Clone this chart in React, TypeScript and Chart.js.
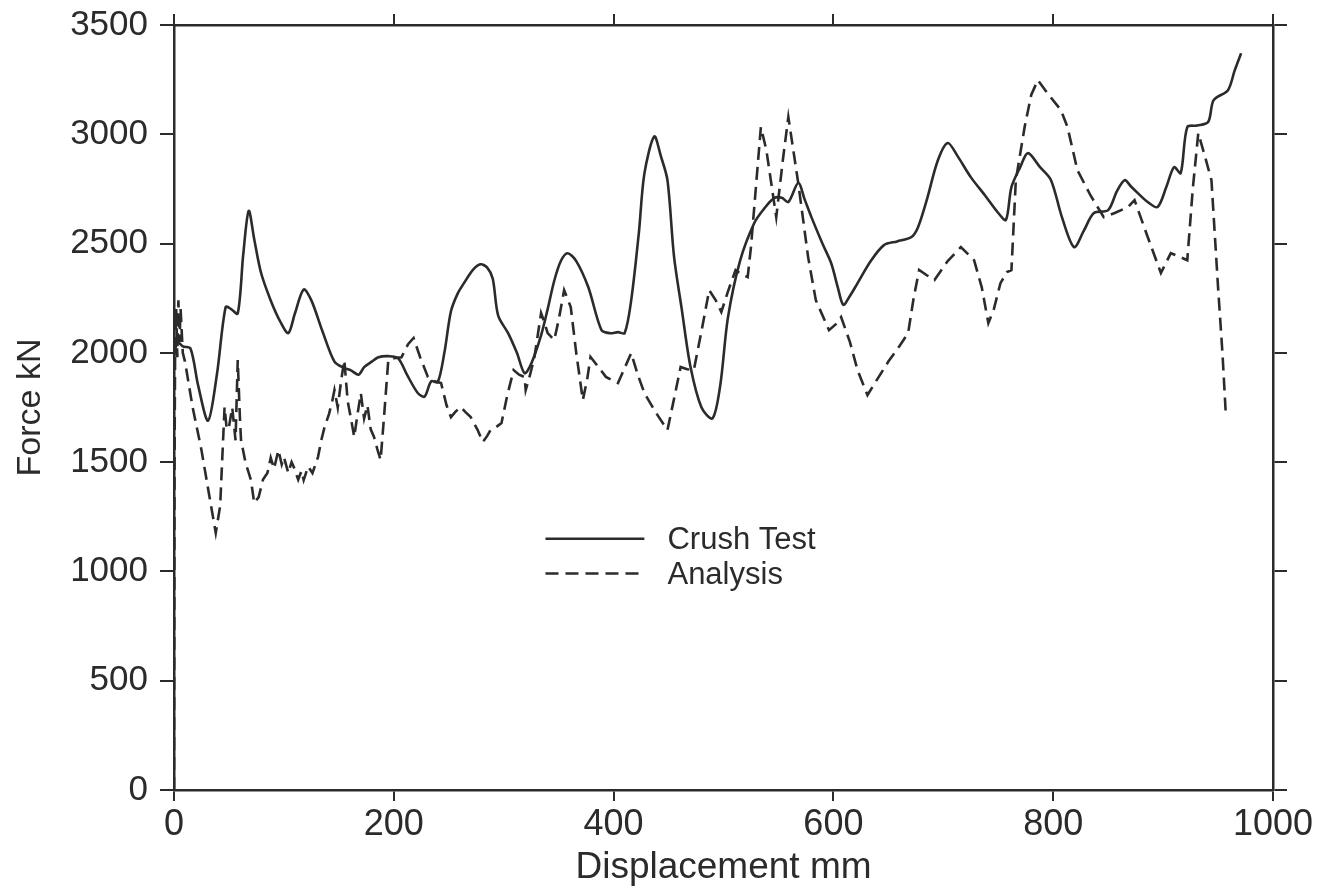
import React, { useEffect, useRef } from "react";
import { Chart, registerables } from "chart.js";

Chart.register(...registerables);

const crushX = [0, 3, 8, 15, 22, 31, 39, 47, 52, 58, 63, 68, 73, 79, 88, 97, 104, 110, 118, 125, 135, 146, 155, 161, 168, 173, 180, 186, 195, 204, 212, 222, 228, 234, 240, 246, 252, 258, 264, 272, 279, 285, 290, 295, 304, 312, 319, 325, 334, 340, 346, 352, 358, 366, 377, 389, 397, 404, 410, 416, 423, 428, 437, 443, 449, 455, 462, 470, 480, 490, 497, 504, 515, 528, 537, 546, 553, 559, 568, 574, 580, 590, 598, 604, 609, 615, 622, 634, 646, 658, 671, 677, 685, 695, 704, 713, 725, 738, 750, 757, 762, 770, 777, 788, 798, 808, 819, 828, 837, 850, 858, 865, 871, 877, 886, 895, 903, 910, 916, 922, 931, 941, 946, 959, 965, 971];
const crushY = [1980, 2050, 2030, 2020, 1850, 1690, 1900, 2210, 2200, 2180, 2450, 2650, 2520, 2370, 2240, 2140, 2090, 2180, 2290, 2240, 2100, 1960, 1930, 1920, 1900, 1935, 1960, 1980, 1985, 1975, 1900, 1815, 1800, 1870, 1866, 2000, 2190, 2270, 2320, 2380, 2405, 2390, 2340, 2170, 2090, 2000, 1907, 1950, 2080, 2200, 2330, 2420, 2456, 2420, 2300, 2104, 2090, 2095, 2090, 2240, 2550, 2820, 2990, 2900, 2790, 2440, 2200, 1935, 1750, 1700, 1850, 2160, 2420, 2594, 2660, 2708, 2710, 2690, 2777, 2700, 2621, 2500, 2410, 2300, 2220, 2260, 2319, 2420, 2493, 2510, 2530, 2575, 2700, 2880, 2960, 2900, 2804, 2720, 2640, 2608, 2758, 2850, 2914, 2850, 2790, 2620, 2484, 2560, 2640, 2653, 2740, 2790, 2760, 2731, 2690, 2667, 2760, 2850, 2822, 3033, 3040, 3056, 3156, 3202, 3290, 3371];

const analysisX = [0, 0.5, 1, 2, 3, 4, 5, 6, 8, 10, 17, 25, 32, 38, 42, 46, 48, 50, 53, 56, 58, 60, 61, 65, 70, 73, 77, 81, 85, 88, 91, 95, 98, 100, 104, 107, 109, 113, 116, 118, 122, 126, 131, 134, 137, 141, 144, 146, 149, 152, 155, 158, 161, 164, 167, 170, 173, 176, 179, 182, 185, 188, 191, 195, 200, 207, 213, 218, 224, 231, 237, 243, 248, 252, 256, 261, 265, 270, 276, 281, 285, 288, 293, 298, 303, 309, 314, 319, 320, 324, 328, 334, 337, 340, 346, 350, 355, 361, 366, 372, 376, 379, 387, 393, 398, 404, 410, 416, 422, 428, 438, 449, 455, 461, 467, 473, 480, 487, 493, 498, 504, 511, 516, 522, 525, 534, 539, 548, 554, 559, 568, 577, 584, 596, 602, 607, 615, 622, 631, 640, 650, 660, 668, 673, 678, 685, 692, 704, 716, 728, 735, 741, 746, 752, 758, 762, 766, 774, 780, 786, 796, 807, 813, 822, 834, 846, 856, 868, 874, 886, 898, 907, 915, 922, 927, 932, 938, 944, 950, 954, 957];
const analysisY = [0, 1500, 2000, 2200, 1980, 2240, 2050, 2200, 2000, 1960, 1750, 1555, 1350, 1176, 1300, 1752, 1650, 1660, 1750, 1600, 1967, 1700, 1600, 1500, 1418, 1313, 1340, 1420, 1450, 1520, 1470, 1555, 1490, 1523, 1450, 1500, 1478, 1420, 1460, 1418, 1480, 1450, 1523, 1600, 1660, 1720, 1780, 1830, 1750, 1870, 1967, 1780, 1700, 1615, 1720, 1815, 1700, 1760, 1650, 1615, 1560, 1510, 1700, 1967, 1975, 1980, 2040, 2068, 1980, 1890, 1870, 1862, 1760, 1706, 1730, 1752, 1730, 1706, 1650, 1592, 1620, 1647, 1660, 1679, 1800, 1921, 1900, 1889, 1830, 1900, 1981, 2182, 2140, 2090, 2059, 2150, 2287, 2210, 2000, 1784, 1880, 1981, 1930, 1890, 1876, 1862, 1930, 1999, 1900, 1816, 1730, 1647, 1790, 1935, 1925, 1921, 2100, 2287, 2240, 2187, 2280, 2379, 2360, 2347, 2484, 3033, 2928, 2621, 2882, 3079, 2777, 2438, 2241, 2104, 2130, 2164, 2050, 1920, 1807, 1880, 1960, 2030, 2090, 2250, 2379, 2355, 2333, 2420, 2484, 2424, 2300, 2136, 2200, 2319, 2370, 2379, 2790, 3033, 3180, 3248, 3180, 3111, 3033, 2836, 2720, 2621, 2640, 2667, 2699, 2530, 2365, 2456, 2440, 2424, 2750, 3005, 2900, 2790, 2300, 2000, 1724];

const xTicks = [0, 200, 400, 600, 800, 1000];
const yTicks = [0, 500, 1000, 1500, 2000, 2500, 3000, 3500];
const seriesNames = ["Crush Test", "Analysis"];
const xTitle = "Displacement mm";
const yTitle = "Force kN";

const INK = "#2b2b2b";
const FONT = "'Liberation Sans', Arial, Helvetica, sans-serif";

const legendPlugin = {
  id: "inlineLegend",
  afterDatasetsDraw(chart: any) {
    const { ctx, scales } = chart;
    const xs = scales.x;
    const ys = scales.y;
    const x0 = xs.getPixelForValue(338);
    const x1 = xs.getPixelForValue(428);
    const tx = xs.getPixelForValue(449);
    const rows = [
      { y: ys.getPixelForValue(1150), dash: [] as number[], label: seriesNames[0] },
      { y: ys.getPixelForValue(990), dash: [13, 7], label: seriesNames[1] },
    ];
    ctx.save();
    rows.forEach((r) => {
      ctx.strokeStyle = INK;
      ctx.lineWidth = 2.5;
      ctx.setLineDash(r.dash);
      ctx.beginPath();
      ctx.moveTo(x0, r.y);
      ctx.lineTo(x1, r.y);
      ctx.stroke();
      ctx.setLineDash([]);
      ctx.fillStyle = INK;
      ctx.font = `31px ${FONT}`;
      ctx.textAlign = "left";
      ctx.textBaseline = "middle";
      ctx.fillText(r.label, tx, r.y + 2);
    });
    ctx.restore();
  },
};

const plain = (v: any) => String(v);

export default function App() {
  const ref = useRef<HTMLCanvasElement | null>(null);

  useEffect(() => {
    if (!ref.current) return;
    const crush = crushX.map((x, i) => ({ x, y: crushY[i] }));
    const analysis = analysisX.map((x, i) => ({ x, y: analysisY[i] }));
    const grid = {
      drawOnChartArea: false,
      drawTicks: true,
      color: INK,
      lineWidth: 2,
    };
    const border = { display: true, color: INK, width: 2.5 };
    const chart = new Chart(ref.current, {
      type: "line",
      data: {
        datasets: [
          {
            label: seriesNames[0],
            data: crush,
            borderColor: INK,
            borderWidth: 2.6,
            pointRadius: 0,
            tension: 0.3,
            fill: false,
          },
          {
            label: seriesNames[1],
            data: analysis,
            borderColor: INK,
            borderWidth: 2.6,
            borderDash: [13, 7],
            pointRadius: 0,
            tension: 0,
            fill: false,
          },
        ],
      },
      options: {
        animation: false,
        responsive: false,
        maintainAspectRatio: false,
        layout: { padding: 0 },
        plugins: {
          legend: { display: false },
          tooltip: { enabled: false },
        },
        scales: {
          x: {
            type: "linear",
            position: "bottom",
            min: 0,
            max: 1000,
            afterBuildTicks: (s: any) => {
              s.ticks = xTicks.map((v) => ({ value: v }));
            },
            ticks: {
              color: INK,
              font: { family: FONT, size: 36 },
              padding: 2,
              maxRotation: 0,
              callback: plain,
            },
            grid: { ...grid, tickLength: 11 },
            border,
            title: {
              display: true,
              text: xTitle,
              color: INK,
              font: { family: FONT, size: 37 },
              padding: { top: 0, bottom: 4 },
            },
            afterFit: (s: any) => {
              s.height = 104;
              s.paddingLeft = 0;
              s.paddingRight = 0;
            },
          },
          x2: {
            type: "linear",
            position: "top",
            min: 0,
            max: 1000,
            afterBuildTicks: (s: any) => {
              s.ticks = xTicks.map((v) => ({ value: v }));
            },
            ticks: { display: false },
            grid: { ...grid, tickLength: 11 },
            border,
            afterFit: (s: any) => {
              s.height = 25;
              s.paddingLeft = 0;
              s.paddingRight = 0;
            },
          },
          y: {
            type: "linear",
            position: "left",
            min: 0,
            max: 3500,
            afterBuildTicks: (s: any) => {
              s.ticks = yTicks.map((v) => ({ value: v }));
            },
            ticks: {
              color: INK,
              font: { family: FONT, size: 35 },
              padding: 12,
              callback: plain,
            },
            grid: { ...grid, tickLength: 14 },
            border,
            title: {
              display: true,
              text: yTitle,
              color: INK,
              font: { family: FONT, size: 34 },
              padding: { top: 10, bottom: 0 },
            },
            afterFit: (s: any) => {
              s.width = 174;
              s.paddingTop = 0;
              s.paddingBottom = 0;
            },
          },
          y2: {
            type: "linear",
            position: "right",
            min: 0,
            max: 3500,
            afterBuildTicks: (s: any) => {
              s.ticks = yTicks.map((v) => ({ value: v }));
            },
            ticks: { display: false },
            grid: { ...grid, tickLength: 14 },
            border,
            afterFit: (s: any) => {
              s.width = 67;
              s.paddingTop = 0;
              s.paddingBottom = 0;
            },
          },
        },
      },
      plugins: [legendPlugin],
    });
    return () => chart.destroy();
  }, []);

  return (
    <div style={{ position: "fixed", left: 0, top: 0, width: 1340, height: 894, background: "#ffffff" }}>
      <canvas ref={ref} width={1340} height={894} style={{ display: "block", width: 1340, height: 894 }} />
    </div>
  );
}
